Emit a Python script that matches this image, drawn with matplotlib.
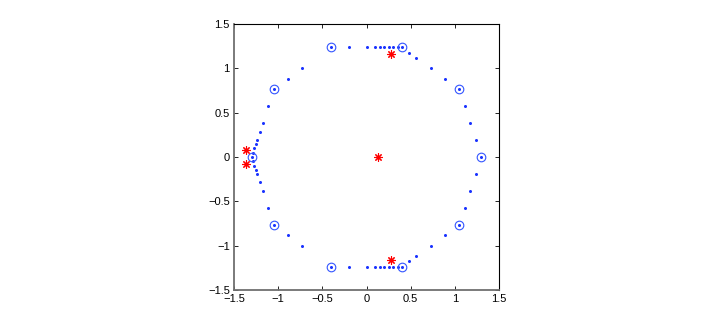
import matplotlib
matplotlib.use("Agg")
import matplotlib.pyplot as plt

# Decagon vertices (circled points)
vert_x = [1.300, 1.052, 0.402, -0.402, -1.052, -1.300, -1.052, -0.402, 0.402, 1.052]
vert_y = [0.000, 0.764, 1.236, 1.236, 0.764, 0.000, -0.764, -1.236, -1.236, -0.764]

# Small blue dots along the edges
dot_x = [1.238, 1.176, 1.114, 0.889, 0.727, 0.564, 0.483,
         0.352, 0.301, 0.251, 0.201, 0.151, 0.100, 0.000, -0.201,
         -0.727, -0.889, -1.114, -1.176, -1.207, -1.238, -1.253, -1.269, -1.285,
         1.238, 1.176, 1.114, 0.889, 0.727, 0.564, 0.483,
         0.352, 0.301, 0.251, 0.201, 0.151, 0.100, 0.000, -0.201,
         -0.727, -0.889, -1.114, -1.176, -1.207, -1.238, -1.253, -1.269, -1.285]
dot_y = [0.191, 0.382, 0.573, 0.882, 1.000, 1.118, 1.177,
         1.236, 1.236, 1.236, 1.236, 1.236, 1.236, 1.236, 1.236,
         1.000, 0.882, 0.573, 0.382, 0.287, 0.191, 0.143, 0.096, 0.048,
         -0.191, -0.382, -0.573, -0.882, -1.000, -1.118, -1.177,
         -1.236, -1.236, -1.236, -1.236, -1.236, -1.236, -1.236, -1.236,
         -1.000, -0.882, -0.573, -0.382, -0.287, -0.191, -0.143, -0.096, -0.048]

# Red asterisks
star_x = [0.275, 0.275, -1.365, -1.365, 0.130]
star_y = [1.165, -1.165, 0.080, -0.080, 0.000]

ticks = [-1.5, -1, -0.5, 0, 0.5, 1, 1.5]
tick_labels = ["\u22121.5", "\u22121", "\u22120.5", "0", "0.5", "1", "1.5"]

plt.rcParams['font.family'] = ['Liberation Sans', 'DejaVu Sans']

fig = plt.figure(figsize=(7.08, 3.27), dpi=100)
ax = fig.add_axes([234 / 708, (327 - 290) / 327, 265 / 708, 266 / 327])

ax.plot(dot_x, dot_y, linestyle='none', marker='o', markersize=2.2,
        color='#1a33ff', markeredgewidth=0)
ax.plot(vert_x, vert_y, linestyle='none', marker='o', markersize=2.2,
        color='#1a33ff', markeredgewidth=0)
ax.plot(vert_x, vert_y, linestyle='none', marker='o', markersize=6.2,
        markerfacecolor='none', markeredgecolor='#3355ff', markeredgewidth=0.8)
ax.plot(star_x, star_y, linestyle='none', marker=(8, 2, 0), markersize=6,
        color='#ff0000', markeredgewidth=0.8)

ax.set_xlim(-1.5, 1.5)
ax.set_ylim(-1.5, 1.5)
ax.set_xticks(ticks)
ax.set_yticks(ticks)
ax.set_xticklabels(tick_labels)
ax.set_yticklabels(tick_labels)
ax.tick_params(direction='in', length=3, width=0.6, labelsize=8,
               top=True, right=True, pad=3)

for side in ['left', 'bottom']:
    ax.spines[side].set_color('#707070')
    ax.spines[side].set_linewidth(1.3)
for side in ['top', 'right']:
    ax.spines[side].set_color('black')
    ax.spines[side].set_linewidth(0.8)

fig.savefig('out.png', dpi=100)
